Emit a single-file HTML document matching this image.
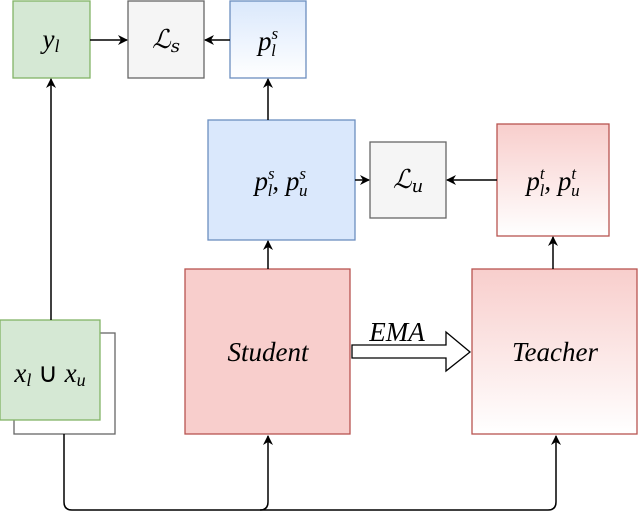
<!DOCTYPE html><html><head><style>body{margin:0;background:#fff}</style></head><body>
<svg width="640" height="512" viewBox="0 0 640 512" xmlns="http://www.w3.org/2000/svg" font-family="Liberation Serif, serif" font-style="italic">
<defs>
<linearGradient id="bl" x1="0" y1="0" x2="0" y2="1"><stop offset="0" stop-color="#dae8fc"/><stop offset="1" stop-color="#fff"/></linearGradient>
<linearGradient id="rd" x1="0" y1="0" x2="0" y2="1"><stop offset="0" stop-color="#f8cecc"/><stop offset="1" stop-color="#fff"/></linearGradient>
<marker id="a" markerWidth="10" markerHeight="10" refX="9" refY="5" orient="auto" markerUnits="userSpaceOnUse"><path d="M0,0 L10,5 L0,10 L3,5z" fill="#000"/></marker>
</defs>
<g stroke-width="1.3">
<rect x="13" y="1" width="77" height="77" fill="#d5e8d4" stroke="#82b366"/>
<rect x="128" y="1" width="76" height="77" fill="#f5f5f5" stroke="#666"/>
<rect x="230" y="1" width="76" height="77" fill="url(#bl)" stroke="#6c8ebf"/>
<rect x="208" y="120" width="147" height="120" fill="#dae8fc" stroke="#6c8ebf"/>
<rect x="370" y="142" width="76" height="76" fill="#f5f5f5" stroke="#666"/>
<rect x="497" y="124" width="112" height="112" fill="url(#rd)" stroke="#b85450"/>
<rect x="185" y="269" width="165" height="165" fill="#f8cecc" stroke="#b85450"/>
<rect x="472" y="269" width="165" height="165" fill="url(#rd)" stroke="#b85450"/>
<rect x="14" y="333" width="101" height="101" fill="#fff" stroke="#666"/>
<rect x="0" y="320" width="100" height="100" fill="#d5e8d4" stroke="#82b366"/>
</g>
<g stroke="#000" stroke-width="1.5" fill="none">
<line x1="90" y1="40" x2="127" y2="40" marker-end="url(#a)"/>
<line x1="230" y1="40" x2="205" y2="40" marker-end="url(#a)"/>
<line x1="268" y1="120" x2="268" y2="79" marker-end="url(#a)"/>
<line x1="355" y1="180" x2="369" y2="180" marker-end="url(#a)"/>
<line x1="497" y1="180" x2="447" y2="180" marker-end="url(#a)"/>
<line x1="553" y1="269" x2="553" y2="237" marker-end="url(#a)"/>
<line x1="268" y1="269" x2="268" y2="241" marker-end="url(#a)"/>
<line x1="51" y1="320" x2="51" y2="79" marker-end="url(#a)"/>
<path d="M64,434 V502 Q64,510 72,510 H260 Q268,510 268,502 V436" marker-end="url(#a)"/>
<path d="M260,510 H548 Q556,510 556,502 V436" marker-end="url(#a)"/>
<path d="M352,345 H446 V332 L470,352 L446,371 V358 H352 Z" stroke-width="1.3" fill="#fff"/>
</g>
<g font-size="27" text-anchor="middle" fill="#000">
<text x="51" y="48">y<tspan font-size="18" dy="4">l</tspan></text>
<text x="166" y="48" font-family="DejaVu Serif,serif" font-size="26">ℒ<tspan font-size="18" dy="4">s</tspan></text>
<text x="268" y="50">p<tspan font-size="17" dy="-11">s</tspan><tspan font-size="17" dx="-7" dy="17">l</tspan></text>
<text x="281" y="190">p<tspan font-size="17" dy="-11">s</tspan><tspan font-size="17" dx="-7" dy="17">l</tspan><tspan dy="-6">, p</tspan><tspan font-size="17" dy="-11">s</tspan><tspan font-size="17" dx="-7" dy="17">u</tspan></text>
<text x="408" y="188" font-family="DejaVu Serif,serif" font-size="26">ℒ<tspan font-size="18" dy="4">u</tspan></text>
<text x="553" y="190">p<tspan font-size="17" dy="-11">t</tspan><tspan font-size="17" dx="-5" dy="17">l</tspan><tspan dy="-6">, p</tspan><tspan font-size="17" dy="-11">t</tspan><tspan font-size="17" dx="-5" dy="17">u</tspan></text>
<text x="268" y="361">Student</text>
<text x="555" y="361">Teacher</text>
<text x="397" y="341">EMA</text>
<text x="50" y="382">x<tspan font-size="18" dy="4">l</tspan><tspan dy="-4" font-style="normal"> ∪ </tspan>x<tspan font-size="18" dy="4">u</tspan></text>
</g>
</svg>
</body></html>
